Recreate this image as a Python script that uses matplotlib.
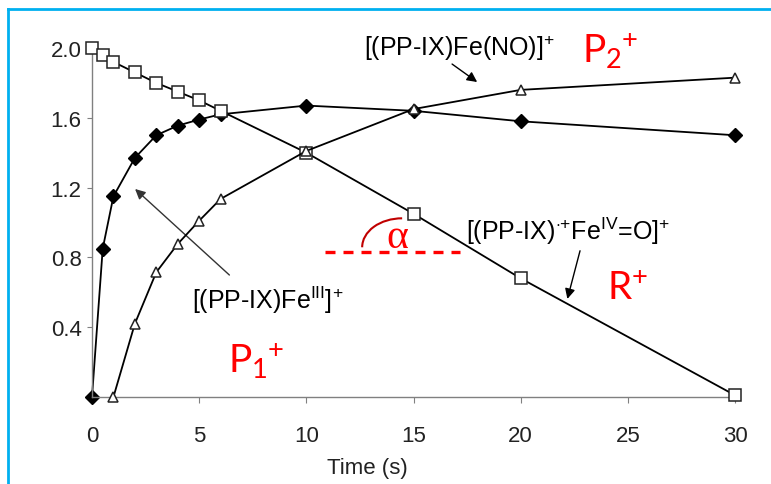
import matplotlib
matplotlib.use("Agg")
import matplotlib.pyplot as plt
from matplotlib.lines import Line2D
from matplotlib.patches import Arc

# series (time in s)
t_r = [0, 0.5, 1, 2, 3, 4, 5, 6, 10, 15, 20, 30]
r_vals = [2.0, 1.96, 1.92, 1.86, 1.80, 1.75, 1.70, 1.64, 1.40, 1.05, 0.68, 0.01]

t_fe3 = [0, 0.5, 1, 2, 3, 4, 5, 6, 10, 15, 20, 30]
fe3_vals = [0.0, 0.85, 1.15, 1.37, 1.50, 1.555, 1.59, 1.62, 1.67, 1.64, 1.58, 1.50]

t_no = [1, 2, 3, 4, 5, 6, 10, 15, 20, 30]
no_vals = [0.0, 0.42, 0.715, 0.877, 1.01, 1.135, 1.41, 1.65, 1.76, 1.83]

x_ticks = [0, 5, 10, 15, 20, 25, 30]
y_ticks = [0.4, 0.8, 1.2, 1.6, 2.0]
y_ticklabels = ["0.4", "0.8", "1.2", "1.6", "2.0"]

plt.rcParams.update({
    "font.family": "Liberation Sans",
    "mathtext.fontset": "custom",
    "mathtext.rm": "Liberation Sans",
    "mathtext.it": "Liberation Sans",
    "mathtext.sf": "Lato",
})

RED, DARKRED, BLUE, AXIS = "#ff0000", "#c00000", "#00b0f0", "#808080"

fig = plt.figure(figsize=(7.71, 4.85), dpi=100)
ax = fig.add_axes([92 / 771, 87 / 485, 643 / 771, 349 / 485])

ax.plot(t_fe3, fe3_vals, color="black", lw=1.3, marker="D", ms=7.3,
        mfc="black", mec="black", zorder=2, clip_on=False)
ax.plot(t_r, r_vals, color="black", lw=1.3, marker="s", ms=8,
        mfc="white", mec="#222222", mew=1.1, zorder=3, clip_on=False)
ax.plot(t_no, no_vals, color="black", lw=1.3, marker="^", ms=7,
        mfc="white", mec="#222222", mew=1.1, zorder=4, clip_on=False)

ax.set_xlim(0, 30)
ax.set_ylim(0, 2.0)
ax.set_xticks(x_ticks)
ax.set_yticks(y_ticks)
ax.set_yticklabels(y_ticklabels)
for s in ["top", "right"]:
    ax.spines[s].set_visible(False)
for s in ["left", "bottom"]:
    ax.spines[s].set_color(AXIS)
    ax.spines[s].set_linewidth(1.0)
ax.tick_params(axis="x", direction="out", length=4.5, width=0.8, color=AXIS,
               pad=16, labelsize=16, labelcolor="#222222")
ax.tick_params(axis="y", direction="out", length=3.5, width=0.8, color=AXIS,
               pad=4, labelsize=16, labelcolor="#222222")
ax.set_xlabel("Time (s)", fontsize=16, color="#222222")
ax.xaxis.set_label_coords(0.428, -0.172)

# black labels with arrows
arrow = dict(arrowstyle="-|>", color="black", lw=1.0, mutation_scale=15, shrinkA=0, shrinkB=0)
ax.text(17.13, 2.003, r"[(PP-IX)Fe(NO)]$^{+}$", fontsize=18, ha="center", va="center")
ax.annotate("", xy=(17.97, 1.805), xytext=(16.8, 1.908), arrowprops=arrow)
ax.text(8.21, 0.562, r"[(PP-IX)Fe$^{\mathrm{III}}$]$^{+}$", fontsize=18, ha="center", va="center")
ax.annotate("", xy=(2.01, 1.192), xytext=(6.41, 0.699), arrowprops={**arrow, "color": "#333333"})
ax.text(22.23, 0.953, r"[(PP-IX)$^{\cdot{+}}$Fe$^{\mathrm{IV}}$=O]$^{+}$", fontsize=18,
        ha="center", va="center")
ax.annotate("", xy=(22.18, 0.562), xytext=(22.77, 0.838), arrowprops=arrow)

# red species labels
red = dict(color=RED, fontsize=28, ha="left", va="baseline")
ax.text(22.87, 1.92, r"$\mathsf{P_2\!{}^+}$", **red)
ax.text(6.35, 0.143, r"$\mathsf{P_1\!{}^+}$", **red)
ax.text(24.03, 0.562, r"$\mathsf{R^{+}}$", **red)

# slope angle marker
ax.plot([10.87, 17.17], [0.829, 0.829], color=RED, lw=2.4, dashes=(3, 2.4), zorder=1)
ax.add_patch(Arc((14.47, 0.858), 3.73, 0.332, theta1=90, theta2=180, color=DARKRED, lw=1.5))
ax.text(13.72, 0.86, "\u03b1", fontsize=30, color=RED, family="Liberation Serif",
        ha="left", va="baseline")

# light blue frame (left and top edges)
fig.add_artist(Line2D([8 / 771, 8 / 771], [0, 1 - 10 / 485], color=BLUE, lw=2,
                      transform=fig.transFigure))
fig.add_artist(Line2D([8 / 771, 1], [1 - 10 / 485, 1 - 10 / 485], color=BLUE, lw=2,
                      transform=fig.transFigure))

fig.savefig("out.png", dpi=100)
